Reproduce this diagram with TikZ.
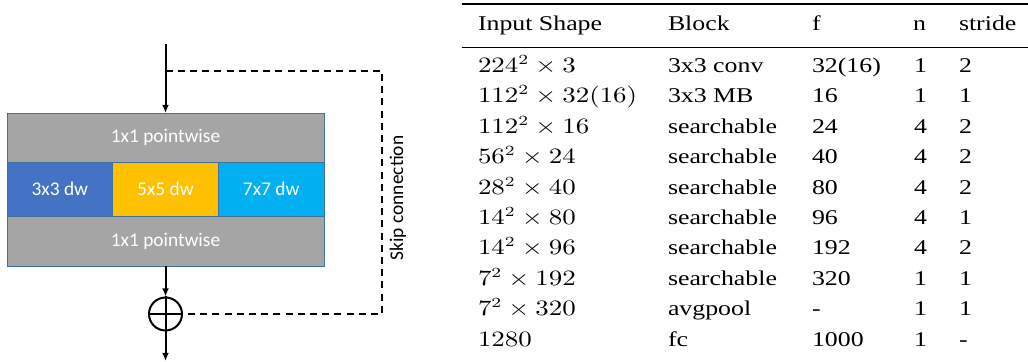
\documentclass[tikz,border=0pt]{standalone}
\usepackage{fontspec}
\usepackage{graphicx}
\setmainfont{Liberation Serif}
\newfontfamily\carlito{Carlito}
\usetikzlibrary{arrows.meta}
\definecolor{pwgray}{HTML}{A5A5A5}
\definecolor{dwblue}{HTML}{4472C4}
\definecolor{dwgold}{HTML}{FFC000}
\definecolor{dwcyan}{HTML}{00B0F0}
\definecolor{cellline}{HTML}{41719C}
\newcommand{\tx}[1]{\scalebox{1.23}[1]{#1}}
\tikzset{
  cell/.style={draw=cellline, line width=0.4pt, inner sep=0pt, outer sep=0pt,
    text=white, font=\carlito\fontsize{9.7}{11}\selectfont},
  flow/.style={line width=1pt, -{Latex[length=4pt,width=3.4pt]}},
  skip/.style={line width=1pt, dash pattern=on 3.5pt off 2.6pt},
  tab/.style={anchor=base west, inner sep=0pt, outer sep=0pt,
    font=\fontsize{10.5}{12}\selectfont},
}
\begin{document}
\begin{tikzpicture}[x=0.5pt, y=-0.5pt]
\useasboundingbox (0,0) rectangle (1028,362);
% ---- block diagram ----
\node[cell, fill=pwgray, minimum width=158.5pt, minimum height=24.5pt] (pw1) at (165.5,137.5) {1x1 pointwise};
\node[cell, fill=dwblue, minimum width=52.83pt, minimum height=27pt] (dw3) at (59.8,189) {3x3 dw};
\node[cell, fill=dwgold, minimum width=52.83pt, minimum height=27pt] (dw5) at (165.5,189) {5x5 dw};
\node[cell, fill=dwcyan, minimum width=52.83pt, minimum height=27pt] (dw7) at (271.2,189) {7x7 dw};
\node[cell, fill=pwgray, minimum width=158.5pt, minimum height=25pt] (pw2) at (165.5,241) {1x1 pointwise};
\node[draw, circle, line width=1pt, minimum size=16.5pt, inner sep=0pt] (add) at (165.5,314) {};
\draw[line width=1pt] (add.north) -- (add.south) (add.west) -- (add.east);
\coordinate (in) at (165.5,44);
\coordinate (split) at (165.5,71);
\coordinate (cornerA) at (382,71);
\coordinate (cornerB) at (382,314);
\coordinate (out) at (165.5,361);
\draw[flow] (in) -- (pw1.north);
\draw[flow] (pw2.south) -- (add.north);
\draw[flow] (add.south) -- (out);
\draw[skip] (split) -- (cornerA) -- (cornerB) -- (add.east);
\node[rotate=90, inner sep=0pt, font=\carlito\fontsize{9.7}{11}\selectfont] (skiplab) at (398,198) {Skip connection};
% ---- table ----
\draw[line width=1pt] (461.5,4.5) -- (1028,4.5);
\draw[line width=0.6pt] (461.5,47.5) -- (1028,47.5);
\node[tab] (h1) at (478,30.5) {\tx{Input Shape}};
\node[tab] (h2) at (668,30.5) {\tx{Block}};
\node[tab] (h3) at (812,30.5) {\tx{f}};
\node[tab] (h4) at (913,30.5) {\tx{n}};
\node[tab] (h5) at (959,30.5) {\tx{stride}};
\foreach \a/\b/\c/\d/\e [count=\i from 0] in {
  {$224^2\times 3$}/3x3 conv/32(16)/1/2,
  {$112^2\times 32(16)$}/3x3 MB/16/1/1,
  {$112^2\times 16$}/searchable/24/4/2,
  {$56^2\times 24$}/searchable/40/4/2,
  {$28^2\times 40$}/searchable/80/4/2,
  {$14^2\times 80$}/searchable/96/4/1,
  {$14^2\times 96$}/searchable/192/4/2,
  {$7^2\times 192$}/searchable/320/1/1,
  {$7^2\times 320$}/avgpool/-/1/1,
  {$1280$}/fc/1000/1/-}{
  \pgfmathsetmacro{\yy}{72.5+30.4*\i}
  \node[tab] (r\i c1) at (478,\yy) {\tx{\a}};
  \node[tab] (r\i c2) at (668,\yy) {\tx{\b}};
  \node[tab] (r\i c3) at (812,\yy) {\tx{\c}};
  \node[tab] (r\i c4) at (914,\yy) {\tx{\d}};
  \node[tab] (r\i c5) at (959,\yy) {\tx{\e}};
}
\end{tikzpicture}
\end{document}
